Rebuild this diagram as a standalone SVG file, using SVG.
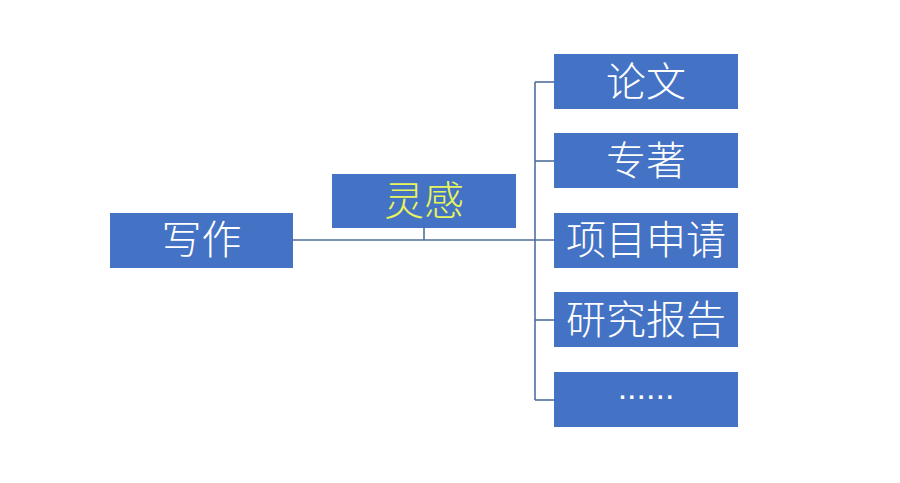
<svg xmlns="http://www.w3.org/2000/svg" width="900" height="483" viewBox="0 0 900 483">
<style>
.box{fill:#4472C4;}
.t{font-family:"Noto Sans CJK SC","Liberation Sans",sans-serif;font-size:40px;font-weight:300;fill:#FFFFFF;text-anchor:middle;}
.y{fill:#E8F55A;}
.c{stroke:#4F6E9E;stroke-width:1.6;fill:none;}
</style>
<rect width="900" height="483" fill="#FFFFFF"/>
<g id="connectors">
<line class="c" x1="293" y1="240" x2="554" y2="240"/>
<line class="c" x1="424" y1="228" x2="424" y2="240"/>
<line class="c" x1="535" y1="82" x2="535" y2="400"/>
<line class="c" x1="535" y1="82" x2="554" y2="82"/>
<line class="c" x1="535" y1="161" x2="554" y2="161"/>
<line class="c" x1="535" y1="320" x2="554" y2="320"/>
<line class="c" x1="535" y1="400" x2="554" y2="400"/>
</g>
<g id="n-xiezuo"><rect class="box" x="110" y="213" width="183" height="55"/><text class="t" x="201.5" y="254">写作</text></g>
<g id="n-linggan"><rect class="box" x="332" y="174" width="184" height="54"/><text class="t y" x="424" y="215">灵感</text></g>
<g id="n-lunwen"><rect class="box" x="554" y="54" width="184" height="55"/><text class="t" x="646" y="96">论文</text></g>
<g id="n-zhuanzhu"><rect class="box" x="554" y="133" width="184" height="55"/><text class="t" x="646" y="175">专著</text></g>
<g id="n-xiangmu"><rect class="box" x="554" y="213" width="184" height="55"/><text class="t" x="646" y="254">项目申请</text></g>
<g id="n-yanjiu"><rect class="box" x="554" y="292" width="184" height="55"/><text class="t" x="646" y="334">研究报告</text></g>
<g id="n-more"><rect class="box" x="554" y="372" width="184" height="55"/><text class="t" x="646" y="399" style="font-family:'Liberation Sans',sans-serif;font-size:34px">......</text></g>
</svg>
